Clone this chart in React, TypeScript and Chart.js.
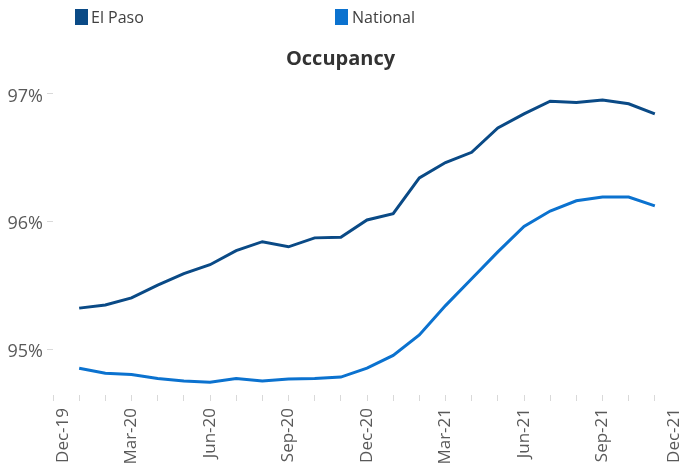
import React, { useEffect, useRef } from "react";
import { Chart, registerables } from "chart.js";

Chart.register(...registerables);

const months: string[] = [
  "Dec-19", "Jan-20", "Feb-20", "Mar-20", "Apr-20", "May-20", "Jun-20", "Jul-20", "Aug-20",
  "Sep-20", "Oct-20", "Nov-20", "Dec-20", "Jan-21", "Feb-21", "Mar-21", "Apr-21", "May-21",
  "Jun-21", "Jul-21", "Aug-21", "Sep-21", "Oct-21", "Nov-21", "Dec-21",
];

// Jan-20 .. Nov-21
const elPaso: number[] = [
  95.32, 95.345, 95.40, 95.50, 95.59, 95.66, 95.77, 95.84, 95.80, 95.87, 95.875,
  96.01, 96.06, 96.34, 96.46, 96.54, 96.73, 96.84, 96.94, 96.93, 96.95, 96.92, 96.84,
];
const national: number[] = [
  94.85, 94.81, 94.80, 94.77, 94.75, 94.74, 94.77, 94.75, 94.765, 94.77, 94.78,
  94.85, 94.95, 95.11, 95.34, 95.55, 95.76, 95.96, 96.08, 96.16, 96.19, 96.19, 96.12,
];

const yTicks: number[] = [95, 96, 97];

const seriesNames = ["El Paso", "National"];
const colors = ["#0A4A86", "#0B72CF"];

const FONT = "'Open Sans', 'Noto Sans', sans-serif";

// keep the first and last rotated x labels inside the canvas, as the reference does
const edgeLabels = {
  id: "edgeLabels",
  beforeDraw(chart: any) {
    const s = chart.scales?.x;
    if (!s || !s.getLabelItems) return;
    const items = s.getLabelItems(chart.chartArea);
    if (!items || !items.length) return;
    const first = items[0];
    const last = items[items.length - 1];
    if (first?.options?.translation) first.options.translation[0] += 10;
    if (last?.options?.translation && last !== first) last.options.translation[0] -= 7;
  },
};

export default function App() {
  const ref = useRef<HTMLCanvasElement | null>(null);

  useEffect(() => {
    document.body.style.margin = "0";
    const canvas = ref.current;
    if (!canvas) return;
    const chart = new Chart(canvas, {
      type: "line",
      data: {
        labels: months,
        datasets: [
          {
            label: seriesNames[0],
            data: [null, ...elPaso, null],
            borderColor: colors[0],
            backgroundColor: colors[0],
            borderWidth: 3,
            pointRadius: 0,
            tension: 0,
          },
          {
            label: seriesNames[1],
            data: [null, ...national, null],
            borderColor: colors[1],
            backgroundColor: colors[1],
            borderWidth: 3,
            pointRadius: 0,
            tension: 0,
          },
        ],
      },
      plugins: [edgeLabels],
      options: {
        responsive: false,
        animation: false,
        devicePixelRatio: 1,
        layout: { padding: { left: 0, right: 0, top: 0, bottom: 0 } },
        plugins: {
          legend: { display: false },
          tooltip: { enabled: false },
          title: {
            display: true,
            text: "Occupancy",
            color: "#333333",
            font: { family: FONT, size: 20, weight: "bold", lineHeight: 1.2 },
            padding: { top: 47, bottom: 10 },
          },
        },
        scales: {
          x: {
            type: "category",
            border: { display: false },
            grid: {
              display: true,
              drawOnChartArea: false,
              drawTicks: true,
              tickLength: 6,
              color: "#d9d9d9",
            },
            ticks: {
              autoSkip: false,
              maxRotation: 90,
              minRotation: 90,
              padding: 7,
              color: "#595959",
              font: { family: FONT, size: 17 },
              callback: (_v: any, i: number) => (i % 3 === 0 ? months[i] : ""),
            },
            afterFit: (s: any) => {
              s.height = 74;
              s.paddingLeft = 0;
              s.paddingRight = 0;
            },
          },
          y: {
            min: 94.64,
            max: 97.098,
            border: { display: false },
            grid: {
              display: true,
              drawOnChartArea: false,
              drawTicks: true,
              tickLength: 6,
              color: "#d9d9d9",
            },
            afterBuildTicks: (s: any) => {
              s.ticks = yTicks.map((v) => ({ value: v }));
            },
            afterFit: (s: any) => {
              s.width = 53;
            },
            ticks: {
              padding: 4,
              labelOffset: 3,
              color: "#595959",
              font: { family: FONT, size: 18 },
              callback: (v: any) => `${v}%`,
            },
          },
        },
      },
    });
    return () => chart.destroy();
  }, []);

  const legendText: React.CSSProperties = {
    position: "absolute",
    top: 4,
    height: 26,
    lineHeight: "26px",
    fontFamily: FONT,
    fontSize: 16,
    color: "#404040",
    whiteSpace: "nowrap",
  };
  const box = (c: string, left: number): React.CSSProperties => ({
    position: "absolute",
    left,
    top: 9,
    width: 13,
    height: 16,
    background: c,
  });

  return (
    <div style={{ position: "relative", width: 681, height: 469, overflow: "hidden", background: "#fff" }}>
      <canvas ref={ref} width={681} height={469} style={{ display: "block" }} />
      <div style={box(colors[0], 75)} />
      <div style={{ ...legendText, left: 91 }}>{seriesNames[0]}</div>
      <div style={box(colors[1], 335)} />
      <div style={{ ...legendText, left: 352 }}>{seriesNames[1]}</div>
    </div>
  );
}
